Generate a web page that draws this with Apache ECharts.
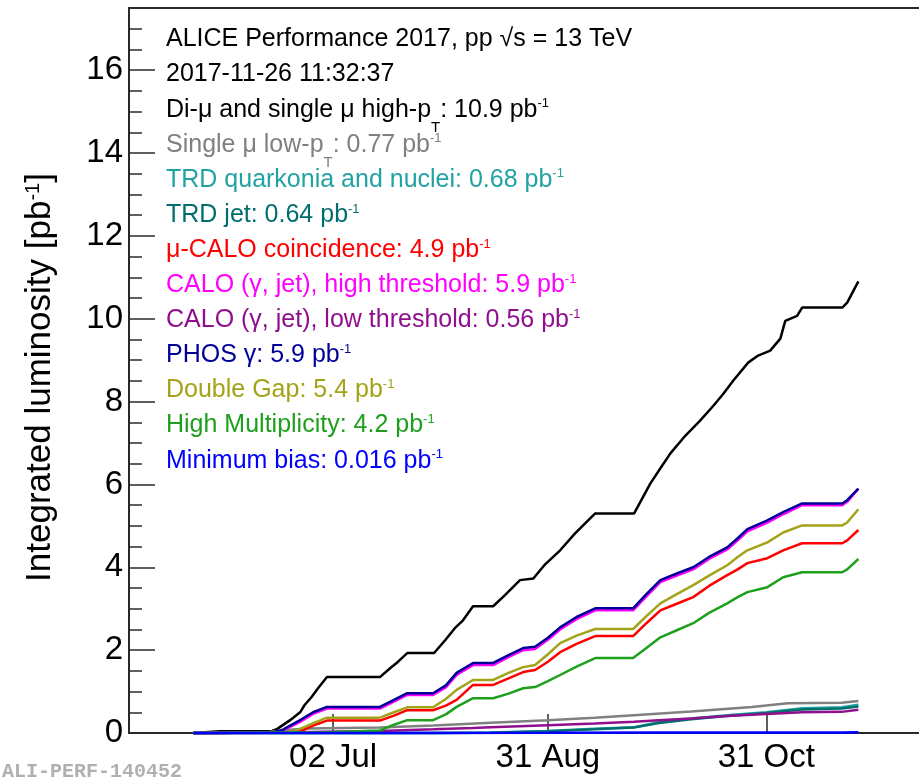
<!DOCTYPE html>
<html>
<head>
<meta charset="utf-8">
<script src="https://cdn.jsdelivr.net/npm/echarts@6/dist/echarts.min.js"></script>
<style>
  html, body { margin: 0; padding: 0; background: #fff; }
  #chart { width: 919px; height: 778px; }
</style>
</head>
<body>
<div id="chart"></div>
<script>
// Integrated luminosity per trigger class, pp 2017 (pb^-1), [time, value]
const diMuHighPt = [
  ['2017-05-24', 0], ['2017-05-31 10:00', 0.04], ['2017-06-15', 0.05], ['2017-06-16 10:00', 0.1],
  ['2017-06-20', 0.31], ['2017-06-22 19:00', 0.5], ['2017-06-24', 0.67], ['2017-06-26', 0.87],
  ['2017-06-27 19:00', 1.08], ['2017-06-30 07:00', 1.35], ['2017-07-15 02:00', 1.35], ['2017-07-18', 1.57],
  ['2017-07-20', 1.71], ['2017-07-22 17:00', 1.93], ['2017-07-30 05:00', 1.93], ['2017-08-02 07:00', 2.24],
  ['2017-08-05', 2.53], ['2017-08-07 07:00', 2.72], ['2017-08-10 02:00', 3.06], ['2017-08-15 17:00', 3.06],
  ['2017-08-19', 3.33], ['2017-08-23 05:00', 3.69], ['2017-08-26 22:00', 3.73], ['2017-08-30', 4.05],
  ['2017-09-03 10:00', 4.41], ['2017-09-07 14:00', 4.82], ['2017-09-13 05:00', 5.30], ['2017-09-24 02:00', 5.30],
  ['2017-09-28 14:00', 6.02], ['2017-10-01 10:00', 6.39], ['2017-10-04 05:00', 6.75], ['2017-10-08 10:00', 7.18],
  ['2017-10-12 12:00', 7.54], ['2017-10-16 05:00', 7.90], ['2017-10-19', 8.19], ['2017-10-21 19:00', 8.51],
  ['2017-10-25 22:00', 8.94], ['2017-10-28 17:00', 9.11], ['2017-11-01 02:00', 9.23], ['2017-11-03 22:00', 9.52],
  ['2017-11-05 07:00', 9.95], ['2017-11-08 14:00', 10.07], ['2017-11-10', 10.27], ['2017-11-21 05:00', 10.27],
  ['2017-11-22 14:00', 10.39], ['2017-11-25 17:00', 10.9]
];
const singleMuLowPt = [
  ['2017-05-24', 0], ['2017-06-13', 0.01], ['2017-06-20', 0.08], ['2017-06-25', 0.11], ['2017-07-15', 0.13],
  ['2017-07-30', 0.18], ['2017-08-15', 0.25], ['2017-08-31', 0.31], ['2017-09-13', 0.37], ['2017-09-24', 0.43],
  ['2017-10-10', 0.52], ['2017-10-27', 0.63], ['2017-11-06', 0.72], ['2017-11-21', 0.73], ['2017-11-25 17:00', 0.77]
];
const trdQuarkonia = [
  ['2017-05-24', 0], ['2017-07-30', 0.003], ['2017-08-15', 0.01], ['2017-08-31', 0.05], ['2017-09-13', 0.1],
  ['2017-09-24', 0.14], ['2017-10-01', 0.26], ['2017-10-10', 0.35], ['2017-10-20', 0.43], ['2017-10-31', 0.5],
  ['2017-11-10', 0.6], ['2017-11-21', 0.62], ['2017-11-25 17:00', 0.68]
];
const trdJet = [
  ['2017-05-24', 0], ['2017-07-30', 0.002], ['2017-08-15', 0.008], ['2017-08-31', 0.045], ['2017-09-13', 0.09],
  ['2017-09-24', 0.13], ['2017-10-01', 0.24], ['2017-10-10', 0.33], ['2017-10-20', 0.41], ['2017-10-31', 0.48],
  ['2017-11-10', 0.57], ['2017-11-21', 0.59], ['2017-11-25 17:00', 0.64]
];
const muCaloCoinc = [
  ['2017-05-24', 0], ['2017-06-21', 0.01], ['2017-06-24', 0.08], ['2017-06-27', 0.2], ['2017-06-30 07:00', 0.3],
  ['2017-07-15 02:00', 0.3], ['2017-07-19', 0.42], ['2017-07-22 17:00', 0.55], ['2017-07-29 22:00', 0.55],
  ['2017-08-02 12:00', 0.66], ['2017-08-05 12:00', 0.8], ['2017-08-10 02:00', 1.16], ['2017-08-15 17:00', 1.16],
  ['2017-08-20', 1.32], ['2017-08-24 02:00', 1.47], ['2017-08-27 10:00', 1.52], ['2017-08-31', 1.72],
  ['2017-09-03 10:00', 1.95], ['2017-09-08', 2.15], ['2017-09-13 05:00', 2.34], ['2017-09-23 19:00', 2.34],
  ['2017-09-27 12:00', 2.65], ['2017-10-01 10:00', 2.96], ['2017-10-06', 3.12], ['2017-10-10 14:00', 3.28],
  ['2017-10-15', 3.55], ['2017-10-20 02:00', 3.81], ['2017-10-23', 3.95], ['2017-10-25 17:00', 4.1],
  ['2017-10-31 07:00', 4.22], ['2017-11-04 17:00', 4.41], ['2017-11-10', 4.58], ['2017-11-21 05:00', 4.58],
  ['2017-11-22 14:00', 4.65], ['2017-11-25 17:00', 4.9]
];
const caloHighThr = [
  ['2017-05-24', 0], ['2017-06-15', 0.01], ['2017-06-18', 0.06], ['2017-06-20', 0.15], ['2017-06-22 19:00', 0.27],
  ['2017-06-26 10:00', 0.46], ['2017-06-30 07:00', 0.59], ['2017-07-15 02:00', 0.59], ['2017-07-19', 0.76],
  ['2017-07-22 17:00', 0.92], ['2017-07-29 22:00', 0.92], ['2017-08-02 12:00', 1.1], ['2017-08-05 12:00', 1.4],
  ['2017-08-10 02:00', 1.64], ['2017-08-15 17:00', 1.64], ['2017-08-20', 1.83], ['2017-08-24 02:00', 2.0],
  ['2017-08-27 10:00', 2.03], ['2017-08-31', 2.25], ['2017-09-03 10:00', 2.5], ['2017-09-08', 2.75],
  ['2017-09-13 05:00', 2.96], ['2017-09-23 19:00', 2.96], ['2017-09-27 12:00', 3.3], ['2017-10-01 10:00', 3.64],
  ['2017-10-06', 3.8], ['2017-10-10 14:00', 3.95], ['2017-10-15', 4.2], ['2017-10-20 02:00', 4.43],
  ['2017-10-23', 4.65], ['2017-10-25 17:00', 4.87], ['2017-10-31 07:00', 5.08], ['2017-11-04 17:00', 5.28],
  ['2017-11-10', 5.5], ['2017-11-21 05:00', 5.5], ['2017-11-22 14:00', 5.58], ['2017-11-25 17:00', 5.9]
];
const caloLowThr = [
  ['2017-05-24', 0], ['2017-06-15', 0.005], ['2017-06-30', 0.03], ['2017-07-15', 0.05], ['2017-07-30', 0.09],
  ['2017-08-10', 0.12], ['2017-08-15', 0.14], ['2017-08-31', 0.19], ['2017-09-13', 0.23], ['2017-09-24', 0.27],
  ['2017-10-01', 0.31], ['2017-10-10', 0.35], ['2017-10-20', 0.41], ['2017-10-31', 0.46], ['2017-11-10', 0.5],
  ['2017-11-21', 0.51], ['2017-11-25 17:00', 0.56]
];
const phosGamma = [
  ['2017-05-24', 0], ['2017-06-15', 0.01], ['2017-06-18', 0.08], ['2017-06-20', 0.18], ['2017-06-22 19:00', 0.31],
  ['2017-06-26 10:00', 0.5], ['2017-06-30 07:00', 0.63], ['2017-07-15 02:00', 0.63], ['2017-07-19', 0.8],
  ['2017-07-22 17:00', 0.96], ['2017-07-29 22:00', 0.96], ['2017-08-02 12:00', 1.15], ['2017-08-05 12:00', 1.45],
  ['2017-08-10 02:00', 1.69], ['2017-08-15 17:00', 1.69], ['2017-08-20', 1.88], ['2017-08-24 02:00', 2.05],
  ['2017-08-27 10:00', 2.08], ['2017-08-31', 2.3], ['2017-09-03 10:00', 2.55], ['2017-09-08', 2.8],
  ['2017-09-13 05:00', 3.01], ['2017-09-23 19:00', 3.01], ['2017-09-27 12:00', 3.35], ['2017-10-01 10:00', 3.69],
  ['2017-10-06', 3.85], ['2017-10-10 14:00', 4.0], ['2017-10-15', 4.25], ['2017-10-20 02:00', 4.48],
  ['2017-10-23', 4.7], ['2017-10-25 17:00', 4.92], ['2017-10-31 07:00', 5.13], ['2017-11-04 17:00', 5.33],
  ['2017-11-10', 5.54], ['2017-11-21 05:00', 5.54], ['2017-11-22 14:00', 5.62], ['2017-11-25 17:00', 5.9]
];
const doubleGap = [
  ['2017-05-24', 0], ['2017-06-19', 0.01], ['2017-06-22', 0.07], ['2017-06-26', 0.22], ['2017-06-30 07:00', 0.37],
  ['2017-07-15 02:00', 0.37], ['2017-07-19', 0.5], ['2017-07-22 17:00', 0.62], ['2017-07-29 22:00', 0.62],
  ['2017-08-02 12:00', 0.82], ['2017-08-05 12:00', 1.04], ['2017-08-10 02:00', 1.28], ['2017-08-15 17:00', 1.28],
  ['2017-08-20', 1.45], ['2017-08-24 02:00', 1.59], ['2017-08-27 10:00', 1.64], ['2017-08-31', 1.9],
  ['2017-09-03 10:00', 2.17], ['2017-09-08', 2.35], ['2017-09-13 05:00', 2.51], ['2017-09-23 19:00', 2.51],
  ['2017-09-27 12:00', 2.82], ['2017-10-01 10:00', 3.13], ['2017-10-06', 3.35], ['2017-10-10 14:00', 3.57],
  ['2017-10-15', 3.8], ['2017-10-20 02:00', 4.05], ['2017-10-23', 4.25], ['2017-10-25 17:00', 4.41],
  ['2017-10-31 07:00', 4.6], ['2017-11-04 17:00', 4.84], ['2017-11-10', 5.01], ['2017-11-21 05:00', 5.01],
  ['2017-11-22 14:00', 5.08], ['2017-11-25 17:00', 5.4]
];
const highMult = [
  ['2017-05-24', 0], ['2017-06-30', 0.02], ['2017-07-15 02:00', 0.06], ['2017-07-19', 0.2],
  ['2017-07-22 17:00', 0.31], ['2017-07-29 22:00', 0.31], ['2017-08-02 12:00', 0.45], ['2017-08-05 12:00', 0.63],
  ['2017-08-10 02:00', 0.84], ['2017-08-15 17:00', 0.84], ['2017-08-20', 0.95], ['2017-08-24 02:00', 1.08],
  ['2017-08-27 10:00', 1.11], ['2017-08-31', 1.25], ['2017-09-03 10:00', 1.4], ['2017-09-08', 1.6],
  ['2017-09-13 05:00', 1.81], ['2017-09-23 19:00', 1.81], ['2017-09-27 12:00', 2.05], ['2017-10-01 10:00', 2.31],
  ['2017-10-06', 2.48], ['2017-10-10 14:00', 2.65], ['2017-10-15', 2.9], ['2017-10-20 02:00', 3.13],
  ['2017-10-23', 3.28], ['2017-10-25 17:00', 3.4], ['2017-10-31 07:00', 3.52], ['2017-11-04 17:00', 3.76],
  ['2017-11-10', 3.88], ['2017-11-21 05:00', 3.88], ['2017-11-22 14:00', 3.95], ['2017-11-25 17:00', 4.2]
];
const minBias = [
  ['2017-05-24', 0], ['2017-07-15', 0.003], ['2017-08-31', 0.007], ['2017-10-01', 0.011],
  ['2017-11-21', 0.015], ['2017-11-25 17:00', 0.016]
];

// Trigger class names (LaTeX-like _{} / ^{} markup), legend order
const classNames = [
  'Di-μ and single μ high-p_{T}', 'Single μ low-p_{T}', 'TRD quarkonia and nuclei', 'TRD jet',
  'μ-CALO coincidence', 'CALO (γ, jet), high threshold', 'CALO (γ, jet), low threshold', 'PHOS γ',
  'Double Gap', 'High Multiplicity', 'Minimum bias'
];
const classData = [
  diMuHighPt, singleMuLowPt, trdQuarkonia, trdJet, muCaloCoinc, caloHighThr,
  caloLowThr, phosGamma, doubleGap, highMult, minBias
];
const classColors = [
  '#000000', '#808080', '#22a3a3', '#006e6e', '#ff0000', '#ff00ff',
  '#8f0f8f', '#000099', '#a3a31a', '#1ea01e', '#0000ff'
];
const headerLines = ['ALICE Performance 2017, pp √s = 13 TeV', '2017-11-26 11:32:37'];
const unitText = ' pb^{-1}';

// Date range of the time axis (runs past the right edge) and its labelled dates
const xStart = '2017-05-06';
const xEnd = '2017-12-28';
const xTickDates = ['2017-07-02', '2017-08-31', '2017-10-31'];
const xTickLabels = ['02 Jul', '31 Aug', '31 Oct'];
const yMin = 0, yMax = 17.5, yMajor = 2, yMinor = 0.5;

const FONT = '"Liberation Sans", Arial, Helvetica, sans-serif';
const AXIS_COLOR = '#2a2a2a';

const toTime = s => +echarts.time.parse(s);

// turn "_{x}" / "^{x}" markup into rich-text tokens
function toRich(s) {
  return s.split(/(_\{[^}]*\}|\^\{[^}]*\})/).filter(p => p.length).map(p => {
    if (p[0] === '_') return '{sub|' + p.slice(2, -1) + '}';
    if (p[0] === '^') return '{sup|' + p.slice(2, -1) + '}';
    return '{n|' + p + '}';
  }).join('');
}
function richStyles(color) {
  return {
    n: { fontSize: 25, fontFamily: FONT, lineHeight: 28, verticalAlign: 'top', fill: color },
    sub: { fontSize: 15, fontFamily: FONT, verticalAlign: 'top', padding: [23, 0, 0, 0], fill: color },
    sup: { fontSize: 13, fontFamily: FONT, verticalAlign: 'top', fill: color }
  };
}

const chart = echarts.init(document.getElementById('chart'), null, { renderer: 'canvas' });
const tickTimes = xTickDates.map(toTime);

const legendLines = headerLines.map(t => ({ text: toRich(t), color: '#000000' })).concat(
  classNames.map((name, i) => {
    const last = classData[i][classData[i].length - 1][1];
    return { text: toRich(name + ': ' + last + unitText), color: classColors[i] };
  })
);

const graphics = legendLines.map((l, i) => ({
  type: 'text',
  left: 166,
  top: 27 + i * 35.1,
  silent: true,
  style: { text: l.text, fill: l.color, rich: richStyles(l.color) }
}));
graphics.push({
  type: 'text', left: 2, top: 762, silent: true,
  style: { text: 'ALI-PERF-140452', fill: '#b0b0b0', font: 'bold 20px "Liberation Mono", "DejaVu Sans Mono", monospace' }
});

const series = classData.map((d, i) => ({
  type: 'line',
  name: classNames[i],
  data: d.map(p => [toTime(p[0]), p[1]]),
  showSymbol: false,
  symbol: 'none',
  clip: false,
  lineStyle: { color: classColors[i], width: 2.5 },
  itemStyle: { color: classColors[i] },
  z: 2 + i
}));
// upper edge of the frame, at the top of the y range
series[0].markLine = {
  silent: true, symbol: 'none', animation: false, precision: 2,
  label: { show: false },
  lineStyle: { color: AXIS_COLOR, width: 2, type: 'solid', opacity: 1 },
  emphasis: { disabled: true },
  data: [{ yAxis: yMax }]
};

const option = {
  animation: false,
  backgroundColor: '#ffffff',
  grid: {
    left: 129, top: 8, bottom: 45, width: 845,
    outerBoundsMode: 'none', containLabel: false,
    show: true, borderColor: AXIS_COLOR, borderWidth: 2, backgroundColor: 'transparent'
  },
  xAxis: {
    type: 'value',
    min: toTime(xStart), max: toTime(xEnd),
    axisLine: { onZero: false, lineStyle: { color: AXIS_COLOR, width: 1.5 } },
    axisTick: { show: true, inside: true, length: 19, customValues: tickTimes, lineStyle: { color: AXIS_COLOR, width: 1.5 } },
    axisLabel: {
      customValues: tickTimes,
      formatter: v => {
        let k = 0;
        tickTimes.forEach((t, i) => { if (Math.abs(t - v) < Math.abs(tickTimes[k] - v)) k = i; });
        return xTickLabels[k];
      },
      fontSize: 33, fontFamily: FONT, color: '#000', margin: 8
    },
    splitLine: { show: false }
  },
  yAxis: [
    {
      type: 'value', min: yMin, max: yMax, interval: yMajor,
      axisLine: { show: true, onZero: false, lineStyle: { color: AXIS_COLOR, width: 1.5 } },
      axisTick: { show: true, inside: true, length: 26, lineStyle: { color: AXIS_COLOR, width: 1.5 } },
      axisLabel: { fontSize: 33, fontFamily: FONT, color: '#000', margin: 6, showMaxLabel: false },
      splitLine: { show: false },
      name: '{a|Integrated luminosity [pb}{s|-1}{a|]}',
      nameLocation: 'middle', nameRotate: 90, nameGap: 66,
      nameTextStyle: {
        color: '#000', fontFamily: FONT, fontSize: 35, padding: [0, 14, 0, 0],
        rich: {
          a: { fontSize: 35, fontFamily: FONT, color: '#000', lineHeight: 40, verticalAlign: 'top' },
          s: { fontSize: 20, fontFamily: FONT, color: '#000', verticalAlign: 'top' }
        }
      }
    },
    {
      type: 'value', min: yMin, max: yMax, interval: yMinor, position: 'left',
      axisLine: { show: false, onZero: false },
      axisTick: { show: true, inside: true, length: 13, lineStyle: { color: AXIS_COLOR, width: 1.5 } },
      axisLabel: { show: false },
      splitLine: { show: false }
    }
  ],
  series: series,
  graphic: graphics
};
chart.setOption(option);
</script>
</body>
</html>
